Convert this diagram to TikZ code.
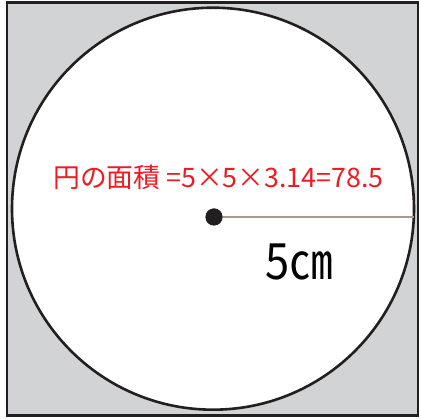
\documentclass[tikz,border=0pt]{standalone}
\usepackage{fontspec}
\newfontfamily\jpfont{Noto Sans CJK JP}
\definecolor{sqgray}{HTML}{D1D3D4}
\definecolor{ink}{HTML}{231F20}
\definecolor{radcol}{HTML}{A89A8E}
\definecolor{txtred}{HTML}{ED1C24}
\tikzset{
  outline/.style={draw=ink, line width=2.6pt},
  radius line/.style={draw=radcol, line width=2pt},
}
\begin{document}
\begin{tikzpicture}[x=1pt,y=-1pt]
\useasboundingbox (0,0) rectangle (421,419);
\node[outline, fill=sqgray, rectangle, minimum width=411pt, minimum height=413pt, inner sep=0pt] (sq) at (212.3,209.2) {};
\node[outline, fill=white, circle, minimum size=402pt, inner sep=0pt] (circ) at (213,208.7) {};
\node[circle, fill=ink, minimum size=17pt, inner sep=0pt] (dot) at (214,217) {};
\coordinate (edge) at (414,217);
\draw[radius line] (dot.center) ++(8,0) -- (edge);
\fill[ink] (dot) circle (8.5pt);
\node[anchor=base west, inner sep=0pt, text=txtred, font=\jpfont\fontsize{26.8}{30}\selectfont] (area) at (53,188) {円の面積 =5×5×3.14=78.5};
\node[inner sep=0pt, text=black, font=\jpfont\fontsize{50}{54}\selectfont, xscale=0.87, anchor=base] (len) at (299.5,280) {5㎝};
\end{tikzpicture}
\end{document}
